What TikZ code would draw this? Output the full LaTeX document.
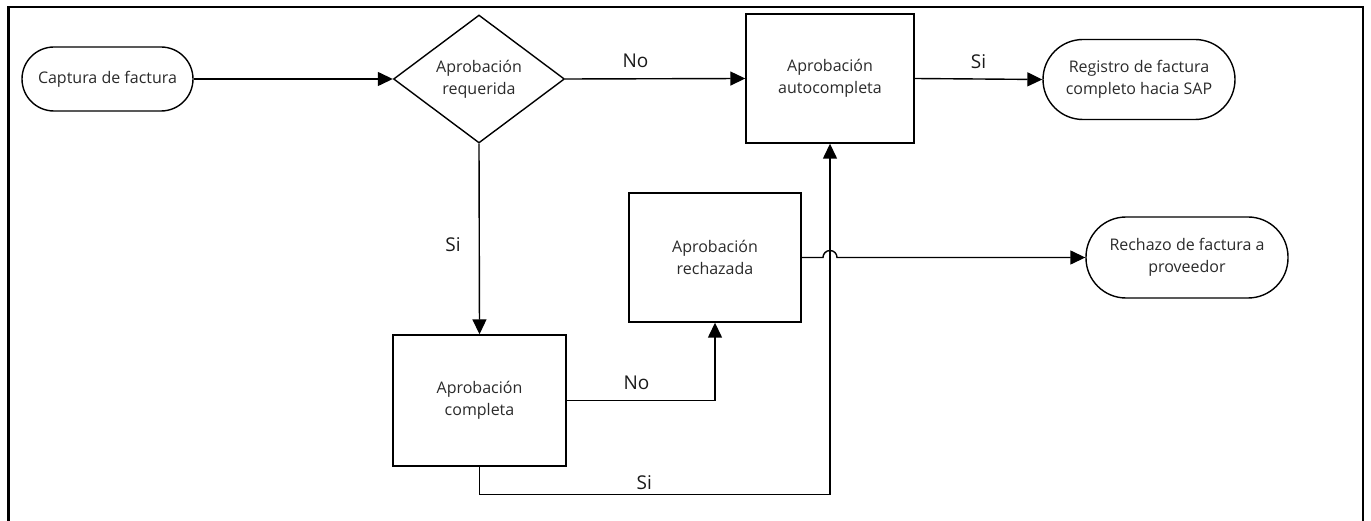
\documentclass[tikz,border=0pt]{standalone}
\usepackage{fontspec}
\setmainfont{Open Sans}
\usetikzlibrary{shapes.geometric,arrows.meta,calc}
\definecolor{txt}{HTML}{2A2A2A}
\definecolor{lbltxt}{HTML}{1A1A1A}
\begin{document}
\begin{tikzpicture}[x=1pt,y=-1pt,
  every node/.style={font=\fontsize{16}{22}\selectfont, text=txt},
  box/.style={draw=black, line width=1.4pt, rectangle, inner sep=0pt, align=center},
  term/.style={box},
  dec/.style={draw=black, line width=1.4pt, diamond, inner sep=0pt, aspect=1.336, align=center},
  conn/.style={draw=black, line width=1.4pt, -{Triangle[length=15pt,width=14pt]}},
  lbl/.style={font=\fontsize{19}{22}\selectfont, text=lbltxt, inner sep=0pt},
  lblup/.style={lbl, above=10pt}
]
\useasboundingbox (0,0) rectangle (1371,521);
\draw[line width=2.5pt] (8.5,521) -- (8.5,7) -- (1363,7) -- (1363,521);

\node[term, rounded corners=32pt, minimum width=171pt, minimum height=64pt] (cap) at (107.5,79) {Captura de factura};
\node[dec, minimum width=171pt, minimum height=128pt] (dia) at (479,79) {Aprobación\\requerida};
\node[box, minimum width=168pt, minimum height=129pt] (auto) at (830,78.5) {Aprobación\\autocompleta};
\node[term, rounded corners=40pt, minimum width=192pt, minimum height=80pt] (reg) at (1139,79.5) {Registro de factura\\completo hacia SAP};
\node[box, minimum width=173pt, minimum height=131pt] (comp) at (479.5,400.5) {Aprobación\\completa};
\node[box, minimum width=172pt, minimum height=129pt] (rech) at (715,257.5) {Aprobación\\rechazada};
\node[term, rounded corners=40pt, minimum width=202pt, minimum height=81pt] (rechp) at (1187,257.5) {Rechazo de factura a\\proveedor};

\coordinate (sib) at ($(comp.south)+(0,28)$);
\coordinate (hop) at (rech.east -| auto.south);

\draw[conn] (cap.east) -- (dia.west);
\draw[conn] (dia.east) -- node[lblup, pos=0.39] (lno1) {No} (auto.west);
\draw[conn] (auto.east) -- node[lblup] (lsi1) {Si} (reg.west);
\draw[conn] (dia.south) -- node[lbl, pos=0.53, left=18pt] (lsi2) {Si} (comp.north);
\draw[conn] (comp.east) -- node[lblup, pos=0.47] (lno2) {No} (comp.east -| rech.south) -- (rech.south);
\draw[conn] (comp.south) -- (sib) -- node[lbl, pos=0.47, above=4pt] (lsi3) {Si} (sib -| auto.south) -- (auto.south);
\draw[conn] (rech.east) -- ($(hop)+(-7,0)$) arc[start angle=180, end angle=0, radius=7pt] -- (rechp.west);
\end{tikzpicture}
\end{document}
